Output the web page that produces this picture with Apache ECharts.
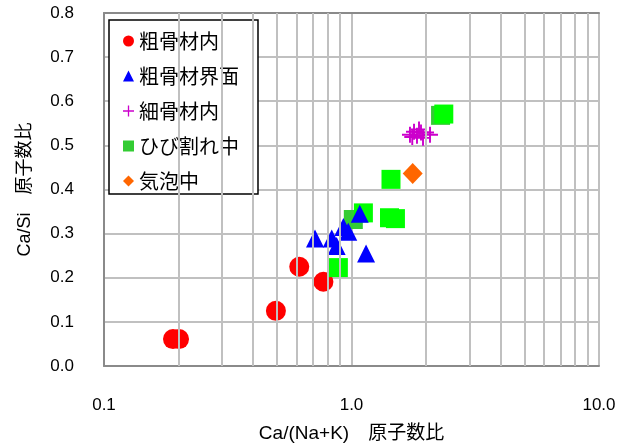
<!DOCTYPE html>
<html>
<head>
<meta charset="utf-8">
<script src="https://cdn.jsdelivr.net/npm/echarts@6/dist/echarts.min.js"></script>
<style>
  html, body { margin: 0; padding: 0; background: #fff; }
  #chart { width: 624px; height: 448px; }
</style>
</head>
<body>
<div id="chart"></div>
<script>
// Legend entries, in display order
const seriesNames = ['粗骨材内', '粗骨材界面', '細骨材内', 'ひび割れ中', '気泡中'];

// [Ca/(Na+K), Ca/Si] atomic ratios
const coarseInside = [[0.190, 0.061], [0.201, 0.061], [0.495, 0.125], [0.615, 0.225], [0.770, 0.191]];
const coarseInterface = [[0.712, 0.289], [0.832, 0.289], [0.871, 0.272], [0.927, 0.315], [0.970, 0.304], [1.080, 0.345], [1.145, 0.255]];
const fineInside = [[1.723, 0.524], [1.760, 0.519], [1.789, 0.531], [1.839, 0.522], [1.874, 0.536], [1.909, 0.529], [1.945, 0.517], [2.000, 0.529], [2.076, 0.524]];
const cracksEarly = [[1.017, 0.332], [2.290, 0.568]];
const cracksLate = [[0.885, 0.223], [1.117, 0.347], [1.424, 0.336], [1.505, 0.334], [1.444, 0.423], [2.360, 0.571]];
const voids = [[1.767, 0.436]];

// Minor decade gridlines on the log axis
const minorGridX = [0.2, 0.3, 0.4, 0.5, 0.6, 0.7, 0.8, 0.9, 2, 3, 4, 5, 6, 7, 8, 9];

const latinFont = "'Liberation Sans', 'Noto Sans CJK JP', sans-serif";
const cjkFont = "'Noto Sans CJK JP', 'Liberation Sans', sans-serif";
const gridColor = '#c0c0c0';
const axisColor = '#8a8a8a';

const plusPath = 'path://M4.4,0H5.6V4.4H10V5.6H5.6V10H4.4V5.6H0V4.4H4.4Z';

const chart = echarts.init(document.getElementById('chart'), null, { renderer: 'canvas' });

const scatterBase = { type: 'scatter', z: 3, silent: true, emphasis: { disabled: true }, animation: false };

chart.setOption({
  animation: false,
  backgroundColor: '#ffffff',
  grid: { left: 104, top: 13, right: 25, bottom: 81, containLabel: false },
  legend: {
    data: seriesNames,
    orient: 'vertical',
    left: 109,
    top: 20,
    padding: [11, 19, 3, 14],
    itemGap: 15,
    itemWidth: 11,
    itemHeight: 11,
    selectedMode: false,
    backgroundColor: '#ffffff',
    borderColor: '#000000',
    borderWidth: 1.5,
    borderRadius: 0,
    textStyle: { fontFamily: cjkFont, fontSize: 20, color: '#000', padding: [0, 0, 0, 0] }
  },
  xAxis: [
    {
      type: 'log',
      logBase: 10,
      min: 0.1,
      max: 10,
      name: 'Ca/(Na+K)\u3000原子数比',
      nameLocation: 'middle',
      nameGap: 58,
      nameTextStyle: { fontFamily: latinFont, fontSize: 19, color: '#000' },
      axisLine: { show: true, lineStyle: { color: axisColor, width: 2 } },
      axisTick: { show: false },
      axisLabel: {
        margin: 31,
        fontFamily: latinFont,
        fontSize: 17,
        color: '#000',
        formatter: v => Number(v).toFixed(1)
      },
      splitLine: { show: true, lineStyle: { color: gridColor, width: 2 } }
    },
    {
      type: 'log',
      logBase: 10,
      min: 0.1,
      max: 10,
      position: 'top',
      axisLine: { show: true, lineStyle: { color: axisColor, width: 2 } },
      axisTick: { show: false },
      axisLabel: { show: false },
      splitLine: { show: false }
    }
  ],
  yAxis: {
    type: 'value',
    min: 0,
    max: 0.8,
    interval: 0.1,
    name: 'Ca/Si\u3000原子数比',
    nameLocation: 'middle',
    nameGap: 70,
    nameRotate: 90,
    nameTextStyle: { fontFamily: latinFont, fontSize: 18, color: '#000' },
    axisLine: { show: true, lineStyle: { color: axisColor, width: 2 } },
    axisTick: { show: false },
    axisLabel: {
      margin: 30,
      fontFamily: latinFont,
      fontSize: 17,
      color: '#000',
      formatter: v => Number(v).toFixed(1)
    },
    splitLine: { show: true, lineStyle: { color: gridColor, width: 2 } }
  },
  series: [
    {
      type: 'scatter',
      name: '_minor',
      data: [],
      z: 1,
      silent: true,
      animation: false,
      markLine: {
        silent: true,
        animation: false,
        symbol: ['none', 'none'],
        label: { show: false },
        emphasis: { disabled: true },
        lineStyle: { color: gridColor, width: 2, type: 'solid', opacity: 1 },
        data: minorGridX.map(v => ({ xAxis: v }))
      }
    },
    Object.assign({}, scatterBase, {
      name: seriesNames[0], data: coarseInside,
      symbol: 'circle', symbolSize: 20,
      itemStyle: { color: '#ff0000', opacity: 1 }
    }),
    Object.assign({}, scatterBase, {
      name: seriesNames[3], data: cracksEarly,
      symbol: 'rect', symbolSize: 19,
      itemStyle: { color: '#33cc33', opacity: 1 }
    }),
    Object.assign({}, scatterBase, {
      name: seriesNames[3], data: cracksLate,
      symbol: 'rect', symbolSize: 19,
      itemStyle: { color: '#00ff00', opacity: 1 }
    }),
    Object.assign({}, scatterBase, {
      name: seriesNames[1], data: coarseInterface,
      symbol: 'triangle', symbolSize: [18, 18],
      itemStyle: { color: '#0000ff', opacity: 1 }
    }),
    Object.assign({}, scatterBase, {
      name: seriesNames[4], data: voids,
      symbol: 'diamond', symbolSize: [20, 21],
      itemStyle: { color: '#ff6600', opacity: 1 }
    }),
    Object.assign({}, scatterBase, {
      name: seriesNames[2], data: fineInside,
      symbol: plusPath, symbolSize: 16,
      itemStyle: { color: '#cc00cc', opacity: 1 }
    })
  ]
});
</script>
</body>
</html>
